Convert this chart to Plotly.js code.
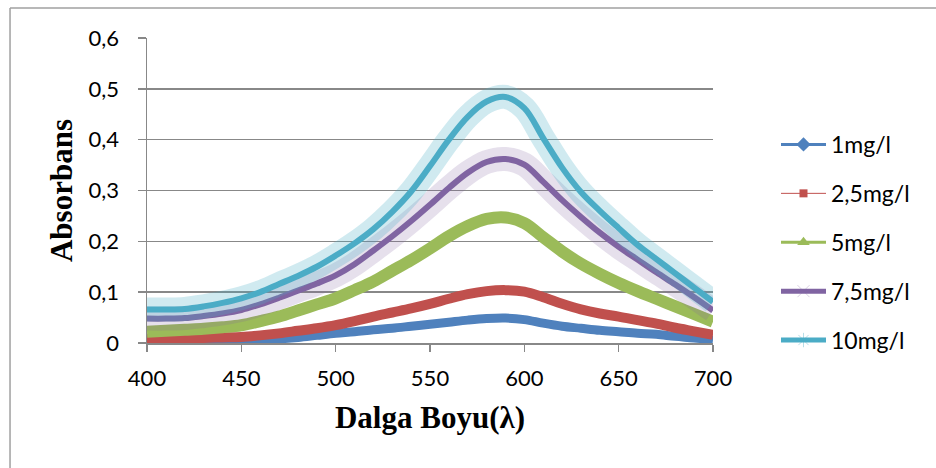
<!DOCTYPE html>
<html>
<head>
<meta charset="utf-8">
<script src="https://cdn.plot.ly/plotly-3.0.1.min.js"></script>
<style>
  html, body { margin: 0; padding: 0; background: #fff; }
  #chart { width: 936px; height: 468px; }
</style>
</head>
<body>
<div id="chart"></div>
<script>
// Wavelength (nm)
const wavelength = [400,410,420,430,440,450,460,470,480,490,500,510,520,530,540,550,560,570,580,590,600,610,620,630,640,650,660,670,680,690,700];
// Absorbance series
const abs1 =   [0.003,0.003,0.003,0.003,0.003,0.004,0.006,0.008,0.011,0.015,0.019,0.022,0.026,0.029,0.033,0.037,0.041,0.045,0.048,0.049,0.046,0.039,0.033,0.029,0.025,0.022,0.019,0.017,0.013,0.010,0.006];
const abs2_5 = [0.009,0.009,0.010,0.010,0.011,0.012,0.015,0.019,0.024,0.029,0.035,0.043,0.052,0.060,0.068,0.077,0.087,0.096,0.102,0.104,0.101,0.090,0.077,0.066,0.058,0.052,0.045,0.038,0.030,0.023,0.016];
const abs5 =   [0.022,0.024,0.026,0.028,0.031,0.035,0.043,0.052,0.064,0.076,0.088,0.104,0.121,0.142,0.163,0.186,0.210,0.230,0.244,0.247,0.236,0.208,0.180,0.156,0.136,0.118,0.102,0.087,0.072,0.057,0.042];
const abs7_5 = [0.048,0.048,0.049,0.053,0.058,0.065,0.076,0.089,0.103,0.117,0.133,0.155,0.182,0.210,0.240,0.272,0.305,0.335,0.356,0.362,0.351,0.317,0.281,0.248,0.217,0.189,0.164,0.139,0.115,0.090,0.064];
const abs10 =  [0.066,0.066,0.067,0.072,0.079,0.088,0.100,0.116,0.132,0.150,0.172,0.196,0.224,0.258,0.298,0.348,0.400,0.445,0.475,0.484,0.462,0.403,0.345,0.297,0.260,0.226,0.193,0.165,0.137,0.109,0.081];

const seriesNames = ['1mg/l','2,5mg/l','5mg/l','7,5mg/l','10mg/l'];
const yTickVals = [0,0.1,0.2,0.3,0.4,0.5,0.6];
const yTickText = ['0','0,1','0,2','0,3','0,4','0,5','0,6'];
const xTickVals = [400,450,500,550,600,650,700];

const colors = ['#4F81BD','#C0504D','#9BBB59','#8064A2','#4BACC6'];
const values = [abs1, abs2_5, abs5, abs7_5, abs10];

const traces = [];
const bandW = [9, 10, 12, 0, 0];
values.forEach((v, i) => {
  if (i >= 3) {
    traces.push({
      x: wavelength, y: v, type: 'scatter', mode: 'lines',
      line: {color: i === 3 ? 'rgba(128,100,162,0.2)' : 'rgba(75,172,198,0.26)', width: 24, shape: 'spline', smoothing: 1},
      showlegend: false, hoverinfo: 'skip'
    });
    traces.push({
      x: wavelength, y: v, type: 'scatter', mode: 'lines',
      line: {color: colors[i], width: 6, shape: 'spline', smoothing: 1},
      showlegend: false
    });
  } else {
    traces.push({
      x: wavelength, y: v, type: 'scatter', mode: 'lines',
      line: {color: colors[i], width: bandW[i], shape: 'spline', smoothing: 1},
      showlegend: false
    });
  }
});

// legend entries
const legendStyles = [
  {line: {color: colors[0], width: 3}, marker: {symbol: 'diamond', size: 11, color: colors[0]}},
  {line: {color: colors[1], width: 1}, marker: {symbol: 'square', size: 8, color: colors[1]}},
  {line: {color: colors[2], width: 3}, marker: {symbol: 'triangle-up', size: 11, color: colors[2]}},
  {line: {color: colors[3], width: 5}, marker: {symbol: 'x-thin-open', size: 12, color: 'rgba(128,100,162,0.3)', line: {width: 1, color: 'rgba(160,140,200,0.5)'}}},
  {line: {color: colors[4], width: 5}, marker: {symbol: 'asterisk-open', size: 12, color: 'rgba(75,172,198,0.4)', line: {width: 1, color: 'rgba(140,200,230,0.7)'}}}
];
seriesNames.forEach((n, i) => {
  traces.push(Object.assign({
    x: [null], y: [null], type: 'scatter', mode: 'lines+markers',
    name: n, legendgroup: 'g' + i, showlegend: true
  }, legendStyles[i]));
});

const gray = '#888888';
const layout = {
  width: 936, height: 468,
  margin: {l: 147, r: 223, t: 38, b: 125},
  paper_bgcolor: '#ffffff', plot_bgcolor: '#ffffff',
  font: {family: 'Lato, Carlito, sans-serif', size: 22, color: '#000'},
  showlegend: true,
  legend: {
    xref: 'container', yref: 'container',
    x: 776/936, y: 1 - 123/468, xanchor: 'left', yanchor: 'top',
    font: {family: 'Lato, sans-serif', size: 23, color: '#000'},
    tracegroupgap: 16, itemwidth: 45, bgcolor: 'rgba(0,0,0,0)'
  },
  xaxis: {
    range: [400, 700], tickvals: xTickVals, ticktext: xTickVals.map(String),
    showgrid: false, zeroline: false,
    showline: true, linecolor: gray, linewidth: 1.5,
    ticks: 'outside', ticklen: 7, tickcolor: gray, tickwidth: 1.5,
    ticklabelstandoff: 8,
    tickfont: {family: 'Lato, sans-serif', size: 22},
    title: {text: 'Dalga Boyu(λ)', font: {family: 'Liberation Serif, Times New Roman, serif', size: 31, weight: 'bold'}, standoff: 16}
  },
  yaxis: {
    range: [0, 0.6], tickvals: yTickVals, ticktext: yTickText,
    showgrid: true, gridcolor: gray, gridwidth: 1.5,
    zeroline: false,
    showline: true, linecolor: gray, linewidth: 1.5,
    ticks: 'outside', ticklen: 8, tickcolor: gray, tickwidth: 1.5,
    ticklabelstandoff: 14,
    tickfont: {family: 'Lato, sans-serif', size: 22},
    title: {text: 'Absorbans', font: {family: 'Liberation Serif, Times New Roman, serif', size: 31, weight: 'bold'}, standoff: 6}
  },
  shapes: [
    {type: 'line', xref: 'paper', yref: 'paper', x0: -0.242, x1: 1.40, y0: 1.0984, y1: 1.0984, line: {color: '#a0a0a0', width: 1.5}},
    {type: 'line', xref: 'paper', yref: 'paper', x0: -0.242, x1: -0.242, y0: 1.0984, y1: -0.42, line: {color: '#a0a0a0', width: 1.5}}
  ]
};

Plotly.newPlot('chart', traces, layout, {staticPlot: true, displayModeBar: false});
</script>
</body>
</html>
